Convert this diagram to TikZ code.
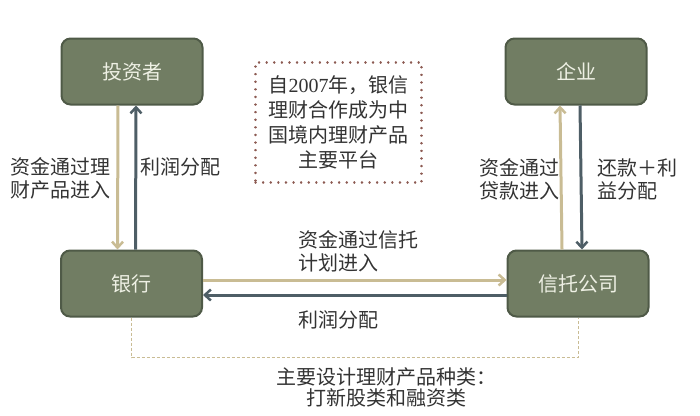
\documentclass[tikz,border=0pt]{standalone}
\usepackage{fontspec}
\setmainfont{Noto Sans CJK SC}
\newfontfamily\latinserif{Liberation Serif}
\usetikzlibrary{arrows.meta}
\definecolor{boxfill}{HTML}{717D63}
\definecolor{boxdraw}{HTML}{4F5A47}
\definecolor{tanline}{HTML}{C9BC94}
\definecolor{darkline}{HTML}{4E5E66}
\definecolor{dotred}{HTML}{8C5A52}
\definecolor{boxtext}{HTML}{EEF0E4}
\definecolor{labeltext}{HTML}{333333}
\begin{document}
\begin{tikzpicture}[x=1pt,y=-1pt,
  entity/.style={draw=boxdraw, fill=boxfill, line width=2pt, rounded corners=9pt,
    minimum width=141pt, minimum height=66pt, inner sep=0pt, text=boxtext,
    font=\fontsize{20}{24}\selectfont},
  lbl/.style={text=labeltext, inner sep=0pt, font=\fontsize{20}{23}\selectfont},
  tanarrow/.style={draw=tanline, line width=3pt, -{Straight Barb[length=6pt,width=11pt,line width=2.5pt]}},
  darkarrow/.style={draw=darkline, line width=3pt, -{Straight Barb[length=6pt,width=11pt,line width=2.5pt]}},
  linkline/.style={draw=tanline, line width=0.8pt, dash pattern=on 3pt off 2pt}
]
\useasboundingbox (0,0) rectangle (700,415);

\node[entity] (inv) at (132,71.5) {投资者};
\node[entity] (ent) at (576,71.5) {企业};
\node[entity] (bank) at (131.5,283.5) {银行};
\node[entity] (trust) at (578,283.5) {信托公司};

\node[draw=dotred, line width=2.5pt, dash pattern=on 0.1pt off 7.5pt, line cap=round,
      minimum width=166pt, minimum height=120pt, inner sep=0pt, text=labeltext,
      align=center, font=\fontsize{20}{25}\selectfont] (note) at (338.5,122.5)
  {自{\latinserif 2007}年，银信\\理财合作成为中\\国境内理财产品\\主要平台};

% left verticals
\draw[tanarrow] ([xshift=-14pt]inv.south) -- ([xshift=-14pt]bank.north);
\draw[darkarrow] ([xshift=4pt]bank.north) -- ([xshift=4pt]inv.south);
% right verticals
\draw[tanarrow] ([xshift=-16pt]trust.north) -- ([xshift=-16pt]ent.south);
\draw[darkarrow] ([xshift=4pt]ent.south) -- ([xshift=4pt]trust.north);
% horizontals
\draw[tanarrow] ([yshift=3.5pt]bank.east) -- ([yshift=3.5pt]trust.west);
\draw[darkarrow] ([yshift=-11.5pt]trust.west) -- ([yshift=-11.5pt]bank.east);
% dashed link
\draw[linkline] (bank.south) -- ++(0,40) coordinate (dl) -| (trust.south);

\node[lbl, align=left, anchor=east] (l1) at (111,178.5) {资金通过理\\财产品进入};
\node[lbl, anchor=west] (l2) at (140,167) {利润分配};
\node[lbl, align=left, anchor=east] (l3) at (560,179.5) {资金通过\\贷款进入};
\node[lbl, align=left, anchor=west] (l4) at (597,179.5) {还款＋利\\益分配};
\node[lbl, align=left, anchor=west] (l5) at (298,251.5) {资金通过信托\\计划进入};
\node[lbl, anchor=west] (l6) at (298,320) {利润分配};
\node[lbl, align=center, font=\fontsize{20}{21}\selectfont] (l7) at (386,387) {主要设计理财产品种类：\\打新股类和融资类};
\end{tikzpicture}
\end{document}
